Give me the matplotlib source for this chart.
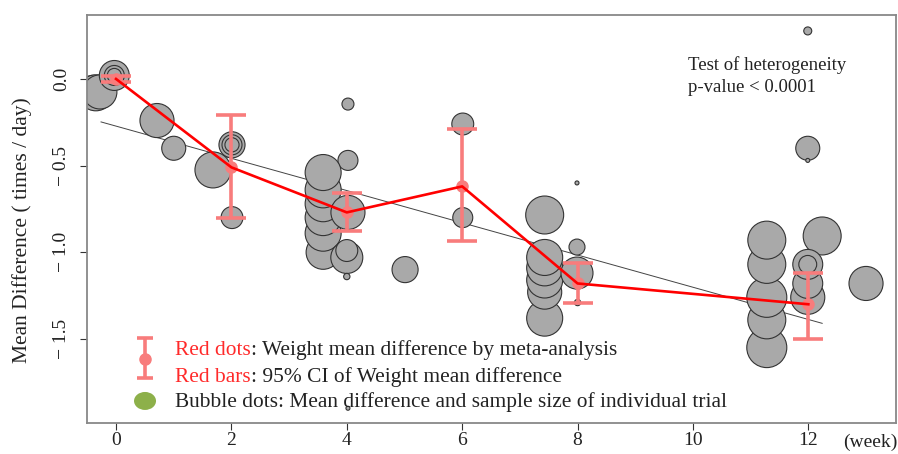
import matplotlib
matplotlib.use("Agg")
import matplotlib.pyplot as plt
from matplotlib.patches import Ellipse

plt.rcParams['font.family'] = ['Liberation Serif', 'DejaVu Serif']

# individual trials: week, mean difference, sample size
trial_week = [-0.40, -0.35, -0.28, -0.03, -0.03, -0.03, 0.71, 1.00, 1.68, 2.01, 2.01, 2.01, 2.01,
              4.02, 4.02, 3.59, 3.59, 3.59, 3.59, 3.59, 3.59, 4.02, 4.00, 4.00, 4.00, 5.01, 4.02,
              6.01, 6.01, 7.43, 7.43, 7.43, 7.43, 7.43, 7.43, 7.99, 7.99, 7.99, 8.00,
              11.28, 11.28, 11.28, 11.28, 11.28, 11.99, 11.99, 11.99, 12.24, 11.99, 11.99, 11.99, 11.99,
              13.00]
trial_md = [-0.06, -0.08, -0.075, 0.02, 0.02, 0.02, -0.24, -0.40, -0.525, -0.38, -0.38, -0.38, -0.80,
            -0.145, -0.47, -1.00, -0.89, -0.80, -0.72, -0.64, -0.54, -0.77, -1.03, -0.99, -1.14, -1.10, -1.90,
            -0.26, -0.80, -0.785, -1.38, -1.23, -1.16, -1.09, -1.03, -0.97, -1.12, -0.60, -1.29,
            -1.55, -1.39, -1.26, -1.07, -0.93, 0.277, -0.40, -0.47, -0.906, -1.26, -1.18, -1.07, -1.07,
            -1.18]
trial_n = [98, 162, 145, 112, 50, 25, 145, 72, 162, 85, 50, 25, 60,
           18, 50, 145, 162, 162, 162, 162, 162, 145, 128, 60, 5, 85, 2,
           60, 50, 180, 162, 145, 162, 162, 162, 32, 128, 2, 5,
           200, 180, 200, 180, 180, 8, 72, 2, 180, 145, 112, 112, 40,
           145]

# pooled weighted mean difference and 95% CI
wmd_week = [0, 2, 4, 6, 8, 12]
wmd = [0.0, -0.51, -0.77, -0.62, -1.18, -1.30]
ci_low = [-0.015, -0.80, -0.88, -0.935, -1.29, -1.50]
ci_high = [0.015, -0.21, -0.66, -0.29, -1.06, -1.12]

# meta-regression line
fit_week = [-0.26, 12.24]
fit_md = [-0.248, -1.41]

fig = plt.figure(figsize=(8.98, 4.54), dpi=100)
ax = fig.add_axes([0.0969, 0.0683, 0.9009, 0.8987])

ax.plot(fit_week, fit_md, color='#444444', lw=0.7, zorder=1)
ax.scatter(trial_week, trial_md, s=[n * 4.15 for n in trial_n], facecolor='#A9A9A9',
           edgecolor='#333333', linewidth=0.8, zorder=2)

err_lo = [m - l for m, l in zip(wmd, ci_low)]
err_hi = [h - m for m, h in zip(wmd, ci_high)]
ax.errorbar(wmd_week, wmd, yerr=[err_lo, err_hi], fmt='o', color='#F87C7C', ms=8,
            elinewidth=2.6, capsize=11, capthick=2.6, zorder=3)
ax.plot(wmd_week, wmd, color='#FF0000', lw=1.9, zorder=4)

ax.set_xlim(-0.503, 13.52)
ax.set_ylim(-1.985, 0.369)
ax.set_xticks([0, 2, 4, 6, 8, 10, 12])
ax.set_yticks([0.0, -0.5, -1.0, -1.5])
ax.set_yticklabels(['0.0', '\u2212 0.5', '\u2212 1.0', '\u2212 1.5'], rotation=90, va='center')
ax.tick_params(axis='both', direction='out', length=5, width=0.8, color='#333333',
               labelsize=14, labelcolor='#222222')
ax.tick_params(axis='x', pad=1.5)
ax.tick_params(axis='y', pad=7)
for sp in ax.spines.values():
    sp.set_color('#888888')
    sp.set_linewidth(1.3)

fig.text(22 / 898, 1 - 230 / 454, 'Mean Difference ( times / day)', rotation=90,
         ha='center', va='center', fontsize=15.5, color='#222222')
fig.text(870 / 898, 1 - 442 / 454, '(week)', ha='center', va='center', fontsize=14, color='#222222')

# heterogeneity note
ax.text(0.743, 0.865, 'Test of heterogeneity', transform=ax.transAxes, fontsize=13.5,
        va='baseline', color='#222222')
ax.text(0.743, 0.812, 'p-value < 0.0001', transform=ax.transAxes, fontsize=13.5,
        va='baseline', color='#222222')

# legend drawn by hand
ax.errorbar([0.0717], [0.157], yerr=[[0.047], [0.051]], fmt='o', color='#F87C7C', ms=8,
            elinewidth=2.6, capsize=6, capthick=2.6, transform=ax.transAxes, clip_on=False)
ax.add_patch(Ellipse((0.0717, 0.054), 0.0272, 0.0441, transform=ax.transAxes,
                     facecolor='#8DB04A', edgecolor='none'))
leg = [('Red dots', ': Weight mean difference by meta-analysis', 0.1667),
       ('Red bars', ': 95% CI of Weight mean difference', 0.1005),
       ('', 'Bubble dots: Mean difference and sample size of individual trial', 0.0392)]
fig.canvas.draw()
renderer = fig.canvas.get_renderer()
inv = ax.transAxes.inverted()
for red, rest, y in leg:
    x = 0.1088
    if red:
        t = ax.text(x, y, red, transform=ax.transAxes, fontsize=15.4, color='#FF2A2A', va='baseline')
        bb = t.get_window_extent(renderer)
        x = inv.transform((bb.x1, bb.y0))[0]
    ax.text(x, y, rest, transform=ax.transAxes, fontsize=15.4, color='#222222', va='baseline')

fig.savefig('out.png', dpi=100)
